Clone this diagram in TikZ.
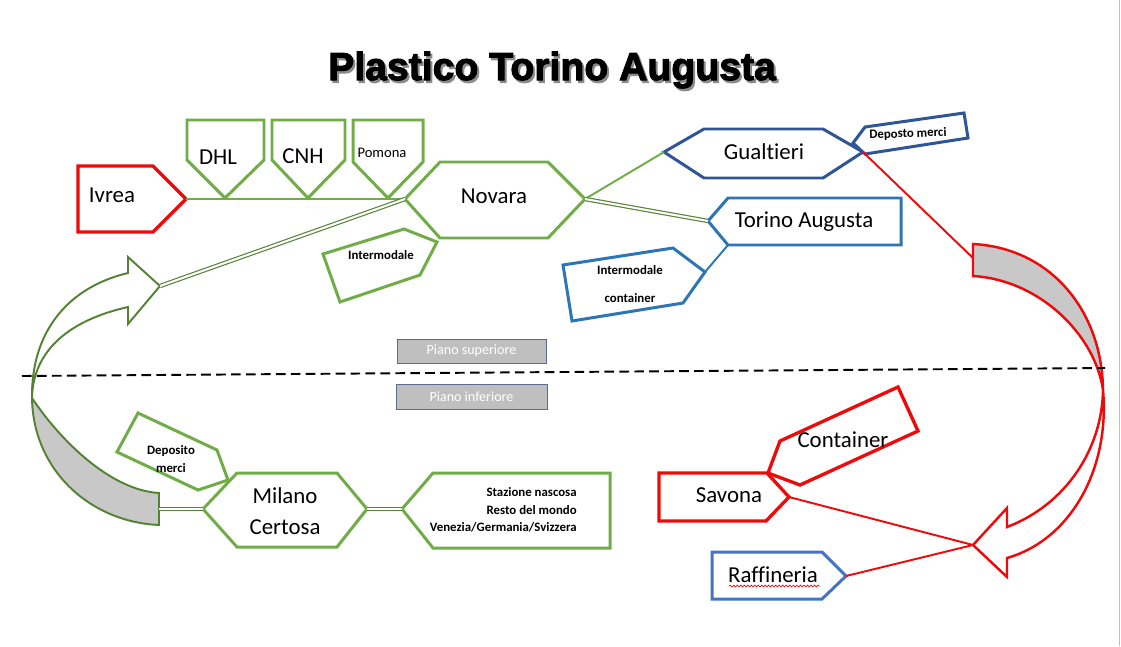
\documentclass[tikz,border=0pt]{standalone}
\usepackage{fontspec}
\setmainfont{Carlito}[Ligatures={NoCommon}]
\newfontfamily\titlefont[FakeBold=2.6]{Liberation Sans}
\usetikzlibrary{decorations.pathmorphing}
\definecolor{grnline}{RGB}{112,173,71}
\definecolor{dkgreen}{RGB}{84,130,53}
\definecolor{redline}{RGB}{238,10,10}
\definecolor{gualblue}{RGB}{47,85,151}
\definecolor{midblue}{RGB}{46,117,182}
\definecolor{raffblue}{RGB}{68,114,196}
\definecolor{arcgray}{RGB}{200,200,200}
\definecolor{pianogray}{RGB}{191,191,191}
\definecolor{pianoedge}{RGB}{90,110,140}

\begin{document}
\begin{tikzpicture}[
    x=0.02cm, y=-0.02cm,
    shp/.style={line width=1.7pt, line join=miter, fill=white},
    grnshp/.style={shp, draw=grnline},
    redshp/.style={shp, draw=redline, line width=1.9pt},
    blueshp/.style={shp, draw=#1},
    lnk/.style={line width=1.1pt},
    dbl/.style={draw=dkgreen, double=white, line width=0.65pt, double distance=1.2pt},
    big/.style={font=\fontsize{13}{17.6}\selectfont, inner sep=0pt},
    sml/.style={font=\bfseries\fontsize{7.3}{10}\selectfont, inner sep=0pt},
    piano/.style={draw=pianoedge, fill=pianogray, line width=0.5pt}
]
    \useasboundingbox (0,0) rectangle (1121,646);
    \fill[white] (0,0) rectangle (1121,646);
    \draw[black!25, line width=0.6pt] (1119.5,0) -- (1119.5,646);

    % title
    \node[text=black!45] at (554,72.5) {\titlefont\bfseries\fontsize{22.3}{26}\selectfont Plastico Torino Augusta};
    \node (title) at (552,70) {\titlefont\bfseries\fontsize{22.3}{26}\selectfont Plastico Torino Augusta};

    % left curved arrow (upper floor <- lower floor)
    \fill[arcgray] (32,398) .. controls (33,470) and (90,522) .. (159,525)
        -- (159,493) .. controls (110,490) and (60,440) .. (32,398) -- cycle;
    \draw[dkgreen, line width=1.1pt, line join=miter]
        (128,307) .. controls (70,320) and (33,350) .. (32,398)
        .. controls (60,440) and (110,490) .. (159,493) coordinate (ltailT)
        -- (159,525) .. controls (90,522) and (33,470) .. (32,398)
        .. controls (31,335) and (65,288) .. (128,273)
        -- (128,257) -- (160,286) coordinate (larT) -- (128,324) -- cycle;
    \coordinate (ltail) at (159,509);

    % right curved arrow (upper floor -> lower floor)
    \fill[arcgray] (973,244) .. controls (1050,248) and (1102,310) .. (1103,390)
        .. controls (1095,335) and (1040,280) .. (973,276) -- cycle;
    \draw[redline, line width=1.4pt, line join=miter]
        (973,276) .. controls (1040,280) and (1095,335) .. (1103,390)
        .. controls (1102,450) and (1065,505) .. (1007,527)
        -- (1007,508) -- (973,545) coordinate (rarT) -- (1007,577) -- (1007,558)
        .. controls (1070,540) and (1110,470) .. (1103,390)
        .. controls (1102,310) and (1050,248) .. (973,244) -- cycle;
    \coordinate (rtail) at (973,258);

    % upper floor
    \draw[redshp] (78,166) -- (153,166) -- (186,199) coordinate (ivrea) -- (153,232) -- (78,232) -- cycle;
    \draw[grnshp] (187,120) -- (264,120) -- (264,160) -- (225,198) -- (187,160) -- cycle;
    \draw[grnshp] (272,120) -- (345,120) -- (345,160) -- (308,198) -- (272,160) -- cycle;
    \draw[grnshp] (353,120) -- (423,120) -- (423,162) -- (388,198) -- (353,162) -- cycle;
    \draw[grnshp] (405,199) coordinate (novW) -- (440,162) -- (548,162) -- (585,199) coordinate (novE)
        -- (548,238) -- (440,238) -- cycle;
    \draw[grnshp] (323,254) -- (404,229) -- (437,242) -- (420,275) -- (340,302) -- cycle;
    \draw[blueshp=gualblue] (664,152) coordinate (guaW) -- (704,129) -- (823,129) -- (863,152) coordinate (guaE)
        -- (823,178) -- (704,178) -- cycle;
    \draw[blueshp=gualblue] (853,143) -- (865,127) -- (964,113) -- (968,138) -- (865,154) -- cycle;
    \draw[blueshp=midblue] (708,221) coordinate (torW) -- (728,198) -- (901,198) -- (901,245)
        -- (728,245) coordinate (torSW) -- cycle;
    \draw[blueshp=midblue] (563,265) -- (673,248) -- (705,272) coordinate (icE) -- (683,303) -- (572,321) -- cycle;

    % lower floor
    \draw[grnshp] (138,413) -- (217,450) -- (228,480) -- (198,490) -- (117,452) -- cycle;
    \draw[grnshp] (203,509) coordinate (milW) -- (237,473) -- (337,473) -- (367,509) coordinate (milE)
        -- (337,547) -- (237,547) -- cycle;
    \draw[grnshp] (402,509) coordinate (staW) -- (433,473) -- (610,473) -- (610,548) -- (433,548) -- cycle;
    \draw[redshp] (768,473) -- (780,441) -- (898,387) -- (918,431) -- (800,485) -- cycle;
    \draw[redshp] (659,473) -- (767,473) -- (789,497) coordinate (savE) -- (766,521) -- (659,521) -- cycle;
    \draw[blueshp=raffblue] (712,552) -- (822,552) -- (846,576) coordinate (rafE) -- (822,599) -- (712,599) -- cycle;

    % connections
    \draw[lnk, grnline] (ivrea) -- (novW);
    \draw[lnk, grnline] (novE) -- (guaW);
    \draw[dbl] (novE) -- (torW);
    \draw[dbl] (novW) -- (larT);
    \draw[lnk, redline] (guaE) -- (rtail);
    \draw[lnk, midblue] (icE) -- (torSW);
    \draw[dbl] (milW) -- (ltail);
    \draw[dbl] (milE) -- (staW);
    \draw[lnk, redline] (savE) -- (rarT);
    \draw[lnk, redline] (rafE) -- (rarT);

    % labels
    \node[big] (ivreaT) at (112,195) {Ivrea};
    \node[big] (dhl) at (218,157) {DHL};
    \node[big] (cnh) at (303,156) {CNH};
    \node[font=\fontsize{8.3}{10}\selectfont, inner sep=0pt] (pomona) at (382,153) {Pomona};
    \node[big] (novara) at (494,196) {Novara};
    \node[sml] (intermod) at (381,255) {Intermodale};
    \node[big] (gualtieri) at (764,152) {Gualtieri};
    \node[sml, rotate=2] (deposto) at (908,134) {Deposto merci};
    \node[big] (torino) at (804,222) {Torino Augusta};
    \node[sml] (intcont1) at (630,270) {Intermodale};
    \node[sml] (intcont2) at (630,298) {container};
    \node[sml, align=center] (deposito) at (171,459) {Deposito\\merci};
    \node[big, align=center, font=\fontsize{13}{17.6}\selectfont] (milano) at (285,511) {Milano\\Certosa};
    \node[sml, align=right, font=\bfseries\fontsize{7.3}{10}\selectfont, anchor=east] (stazione) at (577,510)
        {Stazione nascosa\\Resto del mondo\\Venezia/Germania/Svizzera};
    \node[big] (container) at (843,440) {Container};
    \node[big] (savona) at (729,495) {Savona};
    \node[big] (raffineria) at (773,575) {Raffineria};
    \draw[redline, line width=0.4pt, decorate, decoration={snake, amplitude=0.5pt, segment length=2pt}]
        (729,586) -- (820,586);

    % floors
    \draw[piano] (397,339) rectangle (546,363);
    \node[white, font=\fontsize{8}{10}\selectfont] (superiore) at (471.5,351) {Piano superiore};
    \draw[piano] (396,384) rectangle (547,409);
    \node[white, font=\fontsize{8}{10}\selectfont] (inferiore) at (471.5,397) {Piano inferiore};
    \draw[black, line width=1.1pt, dash pattern=on 5.5pt off 3pt] (22,376) -- (1105,368);
\end{tikzpicture}
\end{document}
